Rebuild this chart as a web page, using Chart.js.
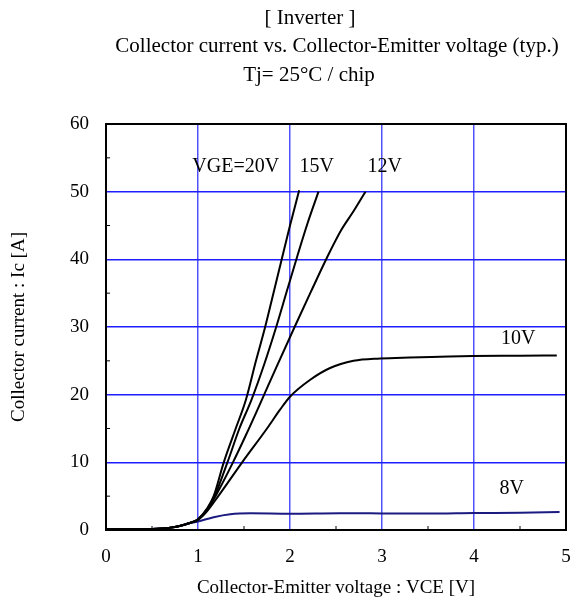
<!DOCTYPE html>
<html>
<head>
<meta charset="utf-8">
<script src="https://cdn.jsdelivr.net/npm/chart.js@4.4.0/dist/chart.umd.min.js"></script>
<style>
  html, body { margin: 0; padding: 0; background: #fff; }
  #wrap { width: 579px; height: 603px; }
</style>
</head>
<body>
<div id="wrap"><canvas id="ICChart"></canvas></div>
<script>
// curve data: VCE [V] and Ic [A]
const vce20 = [0, 0.3, 0.5, 0.7, 0.8, 0.9, 1.0, 1.1, 1.17, 1.28, 1.41, 1.52, 1.63, 1.73, 1.82, 1.91, 2.0, 2.1];
const ic20  = [0.1, 0.1, 0.15, 0.35, 0.6, 1.0, 1.6, 3.2, 5, 10, 15, 19.2, 25, 30, 35, 40, 45, 50.2];

const vce15 = [0, 0.3, 0.5, 0.7, 0.8, 0.9, 1.0, 1.1, 1.18, 1.32, 1.45, 1.58, 1.72, 1.85, 1.97, 2.08, 2.19, 2.31];
const ic15  = [0.1, 0.1, 0.15, 0.35, 0.6, 1.0, 1.6, 3.1, 5, 10, 15, 19.2, 24.5, 30, 35.5, 40.5, 45.3, 50];

const vce12 = [0, 0.3, 0.5, 0.7, 0.8, 0.9, 1.0, 1.1, 1.19, 1.38, 1.52, 1.67, 1.85, 2.05, 2.22, 2.4, 2.56, 2.69, 2.82];
const ic12  = [0.1, 0.1, 0.15, 0.35, 0.6, 1.0, 1.55, 3.0, 5, 10, 14, 18.5, 24, 30, 35, 40.2, 44.4, 47.1, 50];

const vce10 = [0, 0.3, 0.5, 0.7, 0.8, 0.9, 1.0, 1.1, 1.22, 1.48, 1.75, 1.89, 2.0, 2.22, 2.43, 2.69, 2.98, 3.3, 3.63, 3.99, 4.5, 4.9];
const ic10  = [0.1, 0.1, 0.15, 0.35, 0.6, 1.0, 1.5, 2.8, 5, 10, 15, 17.75, 19.7, 22.2, 23.9, 25.0, 25.35, 25.5, 25.6, 25.7, 25.75, 25.8];

const vce8 = [0, 0.3, 0.5, 0.7, 0.8, 0.9, 1.0, 1.17, 1.35, 1.57, 2.0, 2.54, 3.0, 3.5, 4.0, 4.5, 4.93];
const ic8  = [0.1, 0.1, 0.15, 0.35, 0.6, 0.95, 1.25, 1.88, 2.32, 2.46, 2.4, 2.47, 2.45, 2.42, 2.5, 2.55, 2.65];

const xTicks = [0, 1, 2, 3, 4, 5];
const yTicks = [0, 10, 20, 30, 40, 50, 60];

const curveLabels = ['VGE=20V', '15V', '12V', '10V', '8V'];
const labelVce = [1.41, 2.29, 3.03, 4.48, 4.41];
const labelIc  = [53.7, 53.7, 53.7, 28.3, 6.1];

const titleLines = ['[ Inverter ]', 'Collector current vs. Collector-Emitter voltage (typ.)', 'Tj= 25\u00B0C / chip'];
const titleX = [310, 337, 309];

function pts(xs, ys) {
  return xs.map((x, i) => ({ x: x, y: ys[i] }));
}

function curve(label, xs, ys, color) {
  return {
    label: label,
    data: pts(xs, ys),
    showLine: true,
    borderColor: color,
    borderWidth: 2,
    pointRadius: 0,
    cubicInterpolationMode: 'monotone'
  };
}

const serif = '"Liberation Serif", "DejaVu Serif", serif';

// box, inner minor ticks, curve labels and title
const decor = {
  id: 'decor',
  afterDraw(chart) {
    const c = chart.ctx;
    const a = chart.chartArea;
    const xs = chart.scales.x, ys = chart.scales.y;
    c.save();
    c.strokeStyle = '#000';
    c.lineWidth = 1;
    for (let v = 0.5; v < 5; v += 1) {
      const px = xs.getPixelForValue(v);
      c.beginPath(); c.moveTo(px, a.bottom); c.lineTo(px, a.bottom - 4); c.stroke();
    }
    for (let v = 5; v < 60; v += 10) {
      const py = ys.getPixelForValue(v);
      c.beginPath(); c.moveTo(a.left, py); c.lineTo(a.left + 4, py); c.stroke();
    }
    c.lineWidth = 2;
    c.strokeRect(a.left, a.top, a.right - a.left, a.bottom - a.top);

    c.fillStyle = '#000';
    c.font = '20px ' + serif;
    c.textAlign = 'center';
    c.textBaseline = 'middle';
    curveLabels.forEach((t, i) => {
      c.fillText(t, xs.getPixelForValue(labelVce[i]), ys.getPixelForValue(labelIc[i]));
    });

    c.font = '21px ' + serif;
    titleLines.forEach((t, i) => {
      c.fillText(t, titleX[i], 18 + i * 28.5);
    });
    c.restore();
  }
};

const ctx = document.getElementById('ICChart');

new Chart(ctx, {
  type: 'scatter',
  data: {
    datasets: [
      curve('20V', vce20, ic20, '#000'),
      curve('15V', vce15, ic15, '#000'),
      curve('12V', vce12, ic12, '#000'),
      curve('10V', vce10, ic10, '#000'),
      curve('8V', vce8, ic8, '#1a1a80')
    ]
  },
  options: {
    responsive: true,
    maintainAspectRatio: false,
    animation: false,
    layout: { padding: { top: 124, right: 13, left: 0, bottom: 0 } },
    plugins: {
      legend: { display: false },
      tooltip: { enabled: false }
    },
    scales: {
      x: {
        type: 'linear',
        min: 0, max: 5,
        afterBuildTicks: s => { s.ticks = xTicks.map(v => ({ value: v })); },
        afterFit: s => { s.height = 73; s.paddingLeft = 0; s.paddingRight = 0; },
        grid: {
          color: ctx => (ctx.tick && ctx.tick.value > 0 && ctx.tick.value < 5) ? 'rgb(80,80,255)' : 'rgba(0,0,0,0)',
          lineWidth: 1.5,
          drawTicks: false
        },
        border: { display: false },
        ticks: { color: '#000', padding: 16, font: { family: serif, size: 19 } },
        title: {
          display: true,
          text: 'Collector-Emitter voltage : VCE [V]',
          color: '#000',
          padding: { top: 4 },
          font: { family: serif, size: 19 }
        }
      },
      y: {
        type: 'linear',
        min: 0, max: 60,
        afterBuildTicks: s => { s.ticks = yTicks.map(v => ({ value: v })); },
        afterFit: s => { s.width = 106; s.paddingTop = 0; s.paddingBottom = 0; },
        grid: {
          color: ctx => (ctx.tick && ctx.tick.value > 0 && ctx.tick.value < 60) ? 'rgb(30,30,255)' : 'rgba(0,0,0,0)',
          lineWidth: 1.5,
          drawTicks: false
        },
        border: { display: false },
        ticks: { color: '#000', padding: 17, font: { family: serif, size: 19 } },
        title: {
          display: true,
          text: 'Collector current : Ic [A]',
          color: '#000',
          padding: { top: 8, bottom: 0 },
          font: { family: serif, size: 19 }
        }
      }
    }
  },
  plugins: [decor]
});
</script>
</body>
</html>
